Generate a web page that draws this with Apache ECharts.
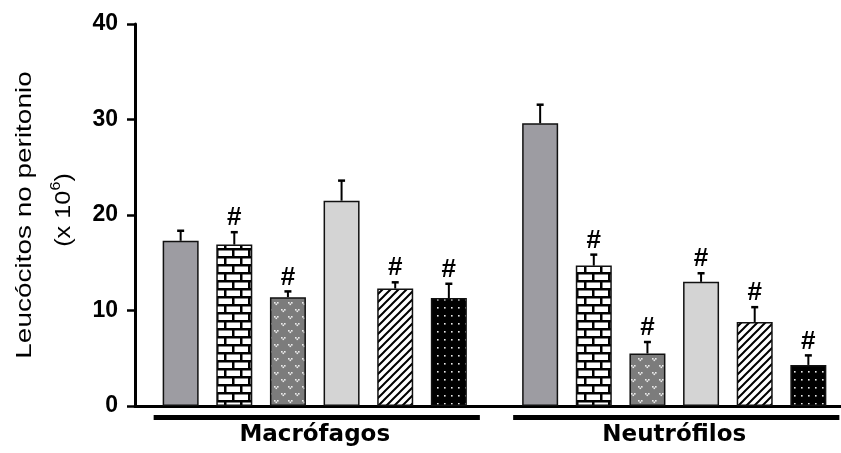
<!DOCTYPE html>
<html><head><meta charset="utf-8">
<script src="https://cdn.jsdelivr.net/npm/echarts@6/dist/echarts.min.js"></script>
<style>html,body{margin:0;padding:0;background:#fff}#c{width:841px;height:453px}</style>
</head><body><div id="c"></div>
<script>
// ---------- data ----------
const categories = ['Macrófagos', 'Neutrófilos'];
const treatmentNames = ['Grupo 1', 'Grupo 2', 'Grupo 3', 'Grupo 4', 'Grupo 5', 'Grupo 6'];
const means1 = [17.3, 29.6];
const means2 = [16.9, 14.7];
const means3 = [11.4, 5.5];
const means4 = [21.5, 13.0];
const means5 = [12.3, 8.8];
const means6 = [11.3, 4.3];
const errs1 = [1.05, 1.95];
const errs2 = [1.3, 1.15];
const errs3 = [0.6, 1.2];
const errs4 = [2.1, 0.9];
const errs5 = [0.65, 1.55];
const errs6 = [1.5, 1.0];
const sig1 = [false, false];
const sig2 = [true, true];
const sig3 = [true, true];
const sig4 = [false, true];
const sig5 = [true, true];
const sig6 = [true, true];
const yTicks = [0, 10, 20, 30, 40];

const allMeans = [means1, means2, means3, means4, means5, means6];
const allErrs = [errs1, errs2, errs3, errs4, errs5, errs6];
const allSig = [sig1, sig2, sig3, sig4, sig5, sig6];

// ---------- patterns ----------
function tile(w, h, draw) {
  const c = document.createElement('canvas');
  c.width = w; c.height = h;
  const g = c.getContext('2d');
  draw(g);
  return { image: c, repeat: 'repeat' };
}
const brick = tile(16, 16, g => {
  g.fillStyle = '#fff'; g.fillRect(0, 0, 16, 16);
  g.fillStyle = '#000';
  g.fillRect(0, 0, 16, 2.5); g.fillRect(0, 8, 16, 2.5);
  g.fillRect(0, 2, 2.5, 6); g.fillRect(8, 10, 2.5, 6);
});
const grayDots = tile(14, 14, g => {
  g.fillStyle = '#7c7c7c'; g.fillRect(0, 0, 14, 14);
  g.fillStyle = '#ececec';
  [[1,1],[4,1],[2.5,2.5],[8,8],[11,8],[9.5,9.5]].forEach(p => g.fillRect(p[0], p[1], 1.6, 1.6));
});
const hatch = tile(8, 8, g => {
  g.fillStyle = '#fff'; g.fillRect(0, 0, 8, 8);
  g.strokeStyle = '#000'; g.lineWidth = 2;
  g.beginPath();
  g.moveTo(-1, 9); g.lineTo(9, -1);
  g.moveTo(-2, 2); g.lineTo(2, -2);
  g.moveTo(6, 10); g.lineTo(10, 6);
  g.stroke();
});
const blackDots = tile(7, 8, g => {
  g.fillStyle = '#000'; g.fillRect(0, 0, 7, 8);
  g.fillStyle = '#e8e8e8'; g.fillRect(3, 3, 1.6, 1.6);
});
const fills = ['#9d9ca2', brick, grayDots, '#d4d4d4', hatch, blackDots];

const BAR_W = 36, BAR_GAP = 0.49;

const barSeries = treatmentNames.map((n, k) => ({
  name: n, type: 'bar', data: allMeans[k],
  barWidth: BAR_W, barGap: (BAR_GAP * 100) + '%',
  itemStyle: { color: fills[k], borderColor: '#111', borderWidth: 1.5 },
  z: 2
}));

const errData = [];
treatmentNames.forEach((n, k) => categories.forEach((c, i) => {
  errData.push([i, k, allMeans[k][i], allErrs[k][i], allSig[k][i] ? 1 : 0]);
}));

const errSeries = {
  type: 'custom', data: errData, encode: { x: 0, y: 2 }, z: 5, clip: false,
  renderItem: (params, api) => {
    const cat = api.value(0), k = api.value(1), m = api.value(2), e = api.value(3), s = api.value(4);
    const base = api.coord([cat, m]);
    const top = api.coord([cat, m + e]);
    const step = BAR_W * (1 + BAR_GAP);
    const x = base[0] + (k - 2.5) * step;
    const ch = [
      { type: 'line', shape: { x1: x, y1: base[1], x2: x, y2: top[1] }, style: { stroke: '#000', lineWidth: 2 } },
      { type: 'line', shape: { x1: x - 3.5, y1: top[1], x2: x + 3.5, y2: top[1] }, style: { stroke: '#000', lineWidth: 2.5 } }
    ];
    if (s) ch.push({ type: 'text', x: x, y: top[1] - 1, style: { text: '#', font: 'bold 26px "Liberation Sans"', fill: '#000', align: 'center', verticalAlign: 'bottom' } });
    return { type: 'group', children: ch };
  }
};

const groupLineSeries = {
  type: 'custom', data: categories.map((c, i) => [i, 0]), encode: { x: 0, y: 1 }, z: 5, clip: false,
  renderItem: (params, api) => {
    const c = api.coord([api.value(0), 0]);
    const band = api.size([1, 0])[0];
    const cx = c[0] + 2, half = band * 0.4537;
    return { type: 'line', shape: { x1: cx - half, y1: c[1] + 11.5, x2: cx + half, y2: c[1] + 11.5 }, style: { stroke: '#000', lineWidth: 5 } };
  }
};

const chart = echarts.init(document.getElementById('c'), null, { renderer: 'canvas' });
chart.setOption({
  animation: false,
  backgroundColor: '#fff',
  grid: { left: 135, top: 24, bottom: 47, width: 719, outerBoundsMode: 'none', containLabel: false },
  xAxis: {
    type: 'category', data: categories,
    axisLine: { lineStyle: { color: '#000', width: 3 } },
    axisTick: { show: false },
    axisLabel: { color: '#000', fontFamily: 'DejaVu Sans', fontWeight: 'bold', fontSize: 23, margin: 18 }
  },
  yAxis: {
    type: 'value', min: yTicks[0], max: yTicks[yTicks.length - 1], interval: 10,
    splitLine: { show: false },
    axisLine: { show: true, lineStyle: { color: '#000', width: 3 } },
    axisTick: { show: true, length: 8, lineStyle: { color: '#000', width: 2.5 } },
    axisLabel: { color: '#000', fontFamily: 'Liberation Sans', fontWeight: 'bold', fontSize: 23, margin: 17 }
  },
  graphic: [
    { type: 'text', x: 25, y: 215, rotation: Math.PI / 2, scaleX: 1.27, z: 10,
      style: { text: 'Leucócitos no peritonio', font: '22px "Liberation Sans"', fill: '#000', align: 'center', verticalAlign: 'middle' } },
    { type: 'text', x: 64, y: 210, rotation: Math.PI / 2, scaleX: 1.15, z: 10,
      style: { text: '{a|(x 10}{s|6}{a|)}', fill: '#000', align: 'center', verticalAlign: 'middle',
        rich: { a: { font: '22px "Liberation Sans"', lineHeight: 30, fill: '#000' },
                s: { font: '14px "Liberation Sans"', lineHeight: 14, verticalAlign: 'top', fill: '#000' } } } }
  ],
  series: barSeries.concat([errSeries, groupLineSeries])
});
</script></body></html>
